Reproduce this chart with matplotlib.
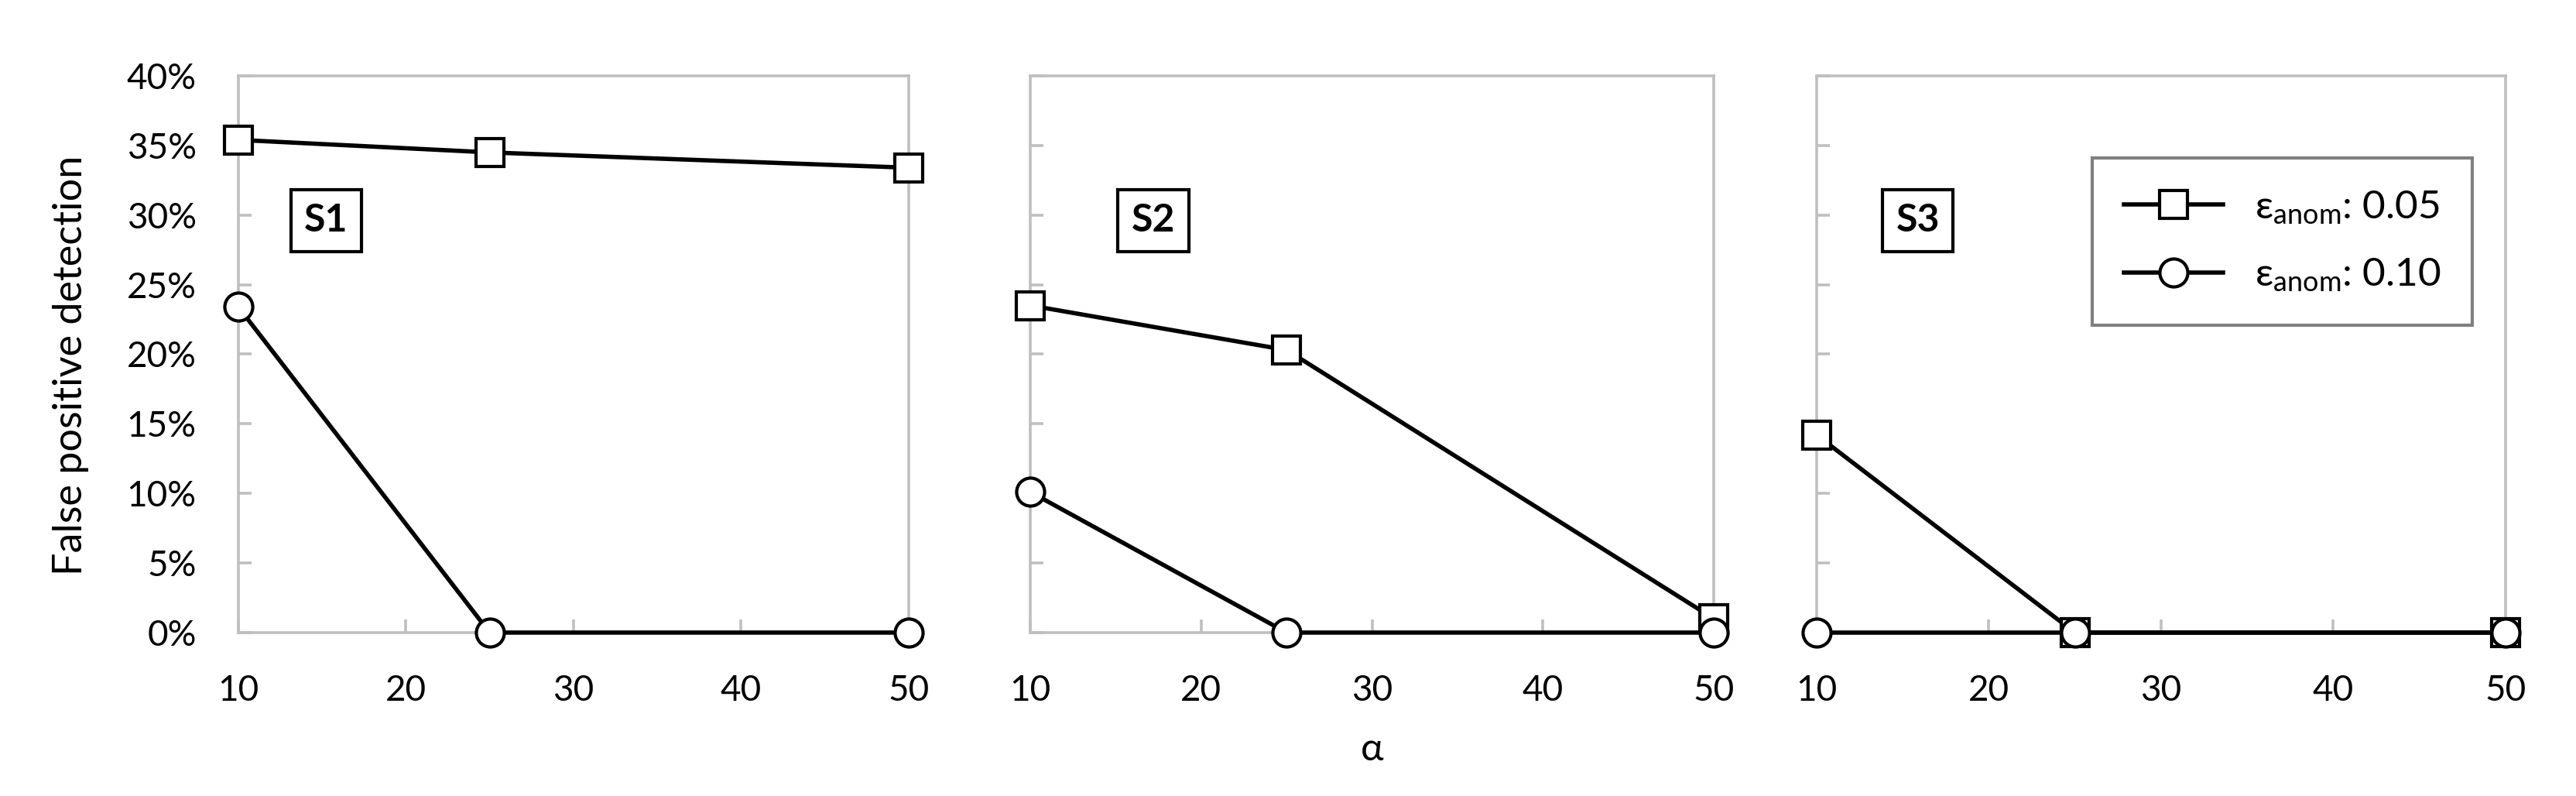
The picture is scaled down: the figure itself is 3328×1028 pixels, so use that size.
import numpy as np
import matplotlib
matplotlib.use("Agg")
import matplotlib.pyplot as plt
from matplotlib.ticker import PercentFormatter

plt.rcParams['font.family'] = ['Lato', 'DejaVu Sans']
plt.rcParams['mathtext.fontset'] = 'custom'
plt.rcParams['mathtext.rm'] = 'Lato'
plt.rcParams['mathtext.it'] = 'Lato'

# dados
alpha = [10, 25, 50]
cenarios = ["S1", "S2", "S3"]
fp_eps005 = [[35.4, 34.5, 33.4],
             [23.5, 20.3, 1.0],
             [14.2, 0.0, 0.0]]
fp_eps010 = [[23.4, 0.0, 0.0],
             [10.1, 0.0, 0.0],
             [0.0, 0.0, 0.0]]
rotulos = [r'ε$_{\mathrm{anom}}$: 0.05', r'ε$_{\mathrm{anom}}$: 0.10']

cinza = '#BFBFBF'
fig = plt.figure(figsize=(33.28, 10.28), dpi=100)

# posições dos painéis (fração da figura)
rects = [[0.0925, 0.2053, 0.2602, 0.6994],
         [0.4000, 0.2053, 0.2653, 0.6994],
         [0.7052, 0.2053, 0.2674, 0.6994]]
caixa_x = [0.131, 0.18, 0.147]

estilo = dict(color='black', lw=4, markersize=26, markeredgewidth=3,
              markerfacecolor='white', markeredgecolor='black', clip_on=False)

for i, nome in enumerate(cenarios):
    ax = fig.add_axes(rects[i])
    ax.plot(alpha, fp_eps005[i], marker='s', label=rotulos[0], zorder=3, **estilo)
    ax.plot(alpha, fp_eps010[i], marker='o', label=rotulos[1], zorder=4, **estilo)

    ax.set_xlim(10, 50)
    ax.set_ylim(0, 40)
    ax.set_xticks(np.arange(10, 51, 10))
    ax.set_yticks(np.arange(0, 41, 5))
    ax.yaxis.set_major_formatter(PercentFormatter(decimals=0))
    for s in ax.spines.values():
        s.set_color(cinza)
        s.set_linewidth(2.6)
    ax.tick_params(direction='in', length=12, width=2.6, color=cinza,
                   labelsize=33, pad=39)
    if i > 0:
        ax.tick_params(axis='y', labelleft=False)
    else:
        ax.set_ylabel("False positive detection", fontsize=37.5)
        ax.yaxis.set_label_coords(-0.223, 0.48)
    if i == 1:
        ax.set_xlabel("α", fontsize=36, labelpad=23)

    ax.text(caixa_x[i], 0.74, nome, transform=ax.transAxes, fontsize=36,
            fontweight='bold', ha='center', va='center',
            bbox=dict(boxstyle='square,pad=0.35', facecolor='white',
                      edgecolor='black', linewidth=3))

    if i == 2:
        leg = ax.legend(loc='upper right', bbox_to_anchor=(0.952, 0.853),
                        borderaxespad=0, fontsize=37, handlelength=2.5,
                        fancybox=False, framealpha=1, borderpad=0.78,
                        labelspacing=0.78)
        leg.get_frame().set_edgecolor('#808080')
        leg.get_frame().set_linewidth(3)

fig.savefig("out.png", dpi=100)
